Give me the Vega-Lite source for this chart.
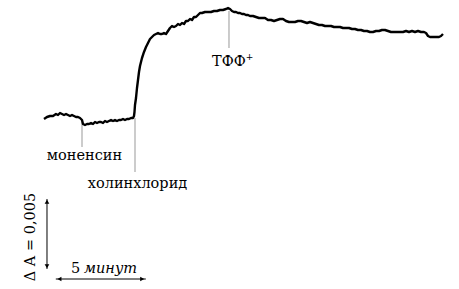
{
  "$schema": "https://vega.github.io/schema/vega-lite/v6.json",
  "width": 459,
  "height": 289,
  "autosize": {"type": "fit", "contains": "padding"},
  "padding": 0,
  "config": {"view": {"stroke": null}, "font": "DejaVu Serif"},
  "datasets": {
    "trace": [
      {"t":2.444,"A":0.012143},{"t":2.611,"A":0.012286},{"t":2.778,"A":0.012357},{"t":2.944,"A":0.012357},
      {"t":3.111,"A":0.0125},{"t":3.222,"A":0.012429},{"t":3.333,"A":0.012571},{"t":3.444,"A":0.0125},
      {"t":3.556,"A":0.012429},{"t":3.667,"A":0.0125},{"t":3.778,"A":0.012429},{"t":3.889,"A":0.012357},
      {"t":4.0,"A":0.012429},{"t":4.111,"A":0.012357},{"t":4.222,"A":0.012286},{"t":4.333,"A":0.012286},
      {"t":4.444,"A":0.012214},{"t":4.556,"A":0.012071},{"t":4.611,"A":0.011786},{"t":4.722,"A":0.011714},
      {"t":4.833,"A":0.011786},{"t":4.944,"A":0.011786},{"t":5.056,"A":0.011857},{"t":5.167,"A":0.011786},
      {"t":5.278,"A":0.011929},{"t":5.389,"A":0.011857},{"t":5.5,"A":0.011929},{"t":5.611,"A":0.011929},
      {"t":5.722,"A":0.011857},{"t":5.833,"A":0.012},{"t":5.944,"A":0.011929},{"t":6.056,"A":0.012},
      {"t":6.167,"A":0.012071},{"t":6.278,"A":0.012},{"t":6.389,"A":0.012071},{"t":6.5,"A":0.012},
      {"t":6.611,"A":0.012071},{"t":6.722,"A":0.012071},{"t":6.833,"A":0.012143},{"t":6.944,"A":0.012071},
      {"t":7.056,"A":0.012143},{"t":7.167,"A":0.012143},{"t":7.278,"A":0.012214},{"t":7.389,"A":0.012214},
      {"t":7.444,"A":0.012357},{"t":7.472,"A":0.012643},{"t":7.5,"A":0.013143},{"t":7.556,"A":0.013643},
      {"t":7.611,"A":0.014357},{"t":7.667,"A":0.014929},{"t":7.722,"A":0.0155},{"t":7.778,"A":0.015929},
      {"t":7.833,"A":0.016214},{"t":7.889,"A":0.0165},{"t":8.0,"A":0.016929},{"t":8.111,"A":0.017286},
      {"t":8.222,"A":0.017571},{"t":8.333,"A":0.017857},{"t":8.444,"A":0.018},{"t":8.556,"A":0.018143},
      {"t":8.667,"A":0.018214},{"t":8.778,"A":0.018286},{"t":8.889,"A":0.018214},{"t":9.0,"A":0.018214},
      {"t":9.111,"A":0.018286},{"t":9.222,"A":0.018214},{"t":9.333,"A":0.018429},{"t":9.444,"A":0.018643},
      {"t":9.556,"A":0.018786},{"t":9.667,"A":0.018714},{"t":9.778,"A":0.018786},{"t":9.889,"A":0.018929},
      {"t":10.0,"A":0.018857},{"t":10.111,"A":0.019},{"t":10.222,"A":0.018929},{"t":10.333,"A":0.019143},
      {"t":10.444,"A":0.019143},{"t":10.556,"A":0.019286},{"t":10.667,"A":0.019214},{"t":10.778,"A":0.019429},
      {"t":10.889,"A":0.019429},{"t":11.0,"A":0.019571},{"t":11.111,"A":0.019714},{"t":11.222,"A":0.019714},
      {"t":11.389,"A":0.019786},{"t":11.556,"A":0.019786},{"t":11.722,"A":0.019786},{"t":11.889,"A":0.019857},
      {"t":12.056,"A":0.019857},{"t":12.222,"A":0.019929},{"t":12.389,"A":0.019929},{"t":12.556,"A":0.02},
      {"t":12.667,"A":0.020071},{"t":12.778,"A":0.02},{"t":12.889,"A":0.019857},{"t":13.0,"A":0.019786},
      {"t":13.111,"A":0.019786},{"t":13.222,"A":0.019714},{"t":13.333,"A":0.019714},{"t":13.444,"A":0.019643},
      {"t":13.556,"A":0.019643},{"t":13.667,"A":0.019571},{"t":13.778,"A":0.019571},{"t":13.889,"A":0.0195},
      {"t":14.056,"A":0.0195},{"t":14.222,"A":0.019429},{"t":14.389,"A":0.019357},{"t":14.556,"A":0.019357},
      {"t":14.722,"A":0.019357},{"t":14.889,"A":0.019214},{"t":15.056,"A":0.019214},{"t":15.222,"A":0.019143},
      {"t":15.389,"A":0.019214},{"t":15.556,"A":0.019286},{"t":15.722,"A":0.019286},{"t":15.889,"A":0.019143},
      {"t":16.056,"A":0.019071},{"t":16.222,"A":0.019071},{"t":16.389,"A":0.019071},{"t":16.556,"A":0.019143},
      {"t":16.722,"A":0.019143},{"t":16.889,"A":0.019071},{"t":17.056,"A":0.019},{"t":17.222,"A":0.019071},
      {"t":17.389,"A":0.019},{"t":17.556,"A":0.018929},{"t":17.722,"A":0.018857},{"t":17.889,"A":0.018857},
      {"t":18.056,"A":0.018786},{"t":18.222,"A":0.018786},{"t":18.389,"A":0.018786},{"t":18.556,"A":0.018714},
      {"t":18.722,"A":0.018714},{"t":18.889,"A":0.018714},{"t":19.056,"A":0.018643},{"t":19.222,"A":0.018643},
      {"t":19.389,"A":0.018643},{"t":19.556,"A":0.018571},{"t":19.722,"A":0.018571},{"t":19.889,"A":0.0185},
      {"t":20.056,"A":0.0185},{"t":20.222,"A":0.018429},{"t":20.389,"A":0.018429},{"t":20.556,"A":0.018357},
      {"t":20.722,"A":0.018357},{"t":20.889,"A":0.018429},{"t":21.056,"A":0.018429},{"t":21.222,"A":0.0185},
      {"t":21.389,"A":0.0185},{"t":21.556,"A":0.018429},{"t":21.722,"A":0.018357},{"t":21.889,"A":0.018357},
      {"t":22.056,"A":0.018357},{"t":22.222,"A":0.018357},{"t":22.389,"A":0.018357},{"t":22.556,"A":0.018429},
      {"t":22.722,"A":0.018357},{"t":22.889,"A":0.018429},{"t":23.056,"A":0.018357},{"t":23.222,"A":0.018429},
      {"t":23.389,"A":0.018357},{"t":23.556,"A":0.018357},{"t":23.667,"A":0.018286},{"t":23.778,"A":0.018071},
      {"t":23.889,"A":0.018},{"t":24.056,"A":0.018},{"t":24.222,"A":0.018},{"t":24.389,"A":0.018},
      {"t":24.5,"A":0.018071},{"t":24.611,"A":0.018214}
    ],
    "events": [
      {"t":4.556,"A1":0.012,"A2":0.010143},
      {"t":7.5,"A1":0.012214,"A2":0.008357},
      {"t":12.722,"A1":0.019857,"A2":0.017214}
    ],
    "labels": [
      {"t":4.694,"A":0.009214,"label":"моненсин"},
      {"t":7.639,"A":0.007214,"label":"холинхлорид"}
    ],
    "leftlabels": [
      {"t":11.778,"A":0.015929,"label":"ТФФ"},
      {"t":3.944,"A":0.001143,"label":"5"}
    ],
    "sup": [{"t":13.65,"A":0.016357,"label":"+"}],
    "italic": [{"t":4.667,"A":0.001143,"label":"минут"}],
    "vlabel": [{"t":1.944,"A":0.003714,"label":"Δ A = 0,005"}],
    "vbar": [{"t":2.611,"A1":0.001429,"A2":0.006429}],
    "hbar": [{"t1":3.1,"t2":8.1,"A":0.000714}],
    "heads": [
      {"t":2.611,"A":0.006229,"end":"top"},
      {"t":2.611,"A":0.001629,"end":"bottom"},
      {"t":3.3,"A":0.000714,"end":"left"},
      {"t":7.9,"A":0.000714,"end":"right"}
    ]
  },
  "layer": [
    {
      "data": {"name": "events"},
      "mark": {"type": "rule", "color": "#999999", "strokeWidth": 1},
      "encoding": {
        "x": {"field": "t", "type": "quantitative", "scale": {"domain": [0, 25.5], "nice": false, "zero": false}, "axis": null},
        "y": {"field": "A1", "type": "quantitative", "scale": {"domain": [0, 0.020643], "nice": false, "zero": false}, "axis": null},
        "y2": {"field": "A2"}
      }
    },
    {
      "data": {"name": "trace"},
      "mark": {"type": "line", "color": "#000000", "strokeWidth": 2.4, "strokeJoin": "round"},
      "encoding": {
        "x": {"field": "t", "type": "quantitative"},
        "y": {"field": "A", "type": "quantitative"}
      }
    },
    {
      "data": {"name": "vbar"},
      "mark": {"type": "rule", "color": "#000000", "strokeWidth": 1},
      "encoding": {
        "x": {"field": "t", "type": "quantitative"},
        "y": {"field": "A1", "type": "quantitative"},
        "y2": {"field": "A2"}
      }
    },
    {
      "data": {"name": "hbar"},
      "mark": {"type": "rule", "color": "#000000", "strokeWidth": 1},
      "encoding": {
        "x": {"field": "t1", "type": "quantitative"},
        "x2": {"field": "t2"},
        "y": {"field": "A", "type": "quantitative"}
      }
    },
    {
      "data": {"name": "heads"},
      "mark": {"type": "point", "filled": true, "color": "#000000", "size": 22, "opacity": 1},
      "encoding": {
        "x": {"field": "t", "type": "quantitative"},
        "y": {"field": "A", "type": "quantitative"},
        "shape": {"field": "end", "type": "nominal", "scale": {"domain": ["top", "bottom", "left", "right"], "range": ["triangle-up", "triangle-down", "triangle-left", "triangle-right"]}, "legend": null}
      }
    },
    {
      "data": {"name": "labels"},
      "mark": {"type": "text", "font": "DejaVu Serif", "fontSize": 14.5, "align": "center", "baseline": "alphabetic", "color": "#000000"},
      "encoding": {
        "x": {"field": "t", "type": "quantitative"},
        "y": {"field": "A", "type": "quantitative"},
        "text": {"field": "label"}
      }
    },
    {
      "data": {"name": "leftlabels"},
      "mark": {"type": "text", "font": "DejaVu Serif", "fontSize": 14.5, "align": "left", "baseline": "alphabetic", "color": "#000000"},
      "encoding": {
        "x": {"field": "t", "type": "quantitative"},
        "y": {"field": "A", "type": "quantitative"},
        "text": {"field": "label"}
      }
    },
    {
      "data": {"name": "sup"},
      "mark": {"type": "text", "font": "DejaVu Serif", "fontSize": 9, "align": "left", "baseline": "alphabetic", "color": "#000000"},
      "encoding": {
        "x": {"field": "t", "type": "quantitative"},
        "y": {"field": "A", "type": "quantitative"},
        "text": {"field": "label"}
      }
    },
    {
      "data": {"name": "italic"},
      "mark": {"type": "text", "font": "DejaVu Serif", "fontSize": 14.5, "fontStyle": "italic", "align": "left", "baseline": "alphabetic", "color": "#000000"},
      "encoding": {
        "x": {"field": "t", "type": "quantitative"},
        "y": {"field": "A", "type": "quantitative"},
        "text": {"field": "label"}
      }
    },
    {
      "data": {"name": "vlabel"},
      "mark": {"type": "text", "font": "DejaVu Serif", "fontSize": 14.5, "angle": 270, "align": "center", "baseline": "alphabetic", "color": "#000000"},
      "encoding": {
        "x": {"field": "t", "type": "quantitative"},
        "y": {"field": "A", "type": "quantitative"},
        "text": {"field": "label"}
      }
    }
  ]
}
